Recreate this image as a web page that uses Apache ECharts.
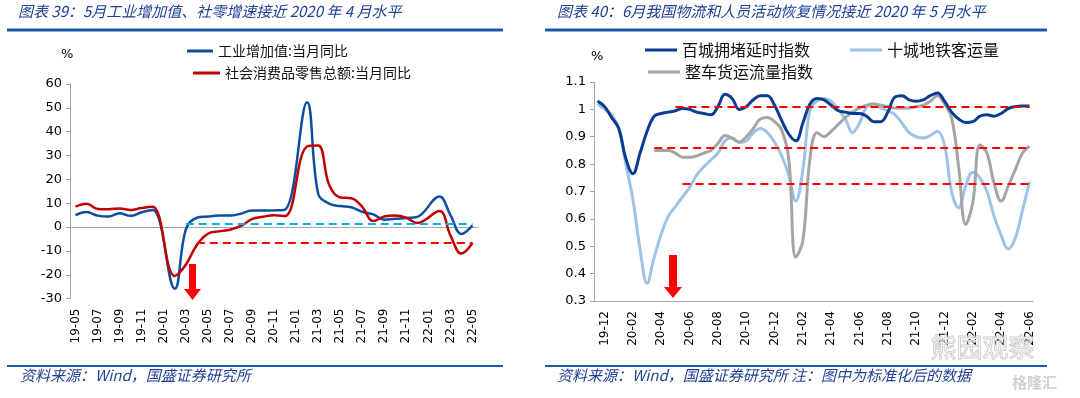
<!DOCTYPE html>
<html>
<head>
<meta charset="utf-8">
<script src="https://cdn.jsdelivr.net/npm/echarts@6/dist/echarts.min.js"></script>
<style>
html, body { margin: 0; padding: 0; background: #fff; }
#chart { width: 1080px; height: 398px; }
</style>
</head>
<body>
<div id="chart"></div>
<script>
// 图表39：工业增加值、社零 当月同比（%）
const leftMonths = ['19-05', '19-06', '19-07', '19-08', '19-09', '19-10', '19-11', '19-12',
  '20-01', '20-02', '20-03', '20-04', '20-05', '20-06', '20-07', '20-08', '20-09', '20-10', '20-11', '20-12',
  '21-01', '21-02', '21-03', '21-04', '21-05', '21-06', '21-07', '21-08', '21-09', '21-10', '21-11', '21-12',
  '22-01', '22-02', '22-03', '22-04', '22-05'];
// 1月无单月数据，留空后连线
const industryYoY = [5.0, 6.3, 4.8, 4.4, 5.8, 4.7, 6.2, 7.2,
  null, -25.9, -1.1, 3.9, 4.4, 4.8, 4.8, 5.6, 6.9, 6.9, 7.0, 7.3,
  null, 52.3, 14.1, 9.8, 8.8, 8.3, 6.4, 5.3, 3.1, 3.5, 3.8, 4.3,
  null, 12.8, 5.0, -2.9, 0.7];
const retailYoY = [8.6, 9.8, 7.6, 7.5, 7.8, 7.2, 8.0, 8.5,
  null, -20.5, -15.8, -7.5, -2.8, -1.8, -1.1, 0.5, 3.3, 4.3, 5.0, 4.6,
  null, 33.8, 34.2, 17.7, 12.4, 12.1, 8.5, 2.5, 4.4, 4.9, 3.9, 1.7,
  null, 6.7, -3.5, -11.1, -6.7];
const industryRef = 1.3;   // 参考线：工业增加值
const retailRef = -6.7;    // 参考线：22-05 社零

// 图表40：物流和人员活动（标准化），半月一个点
const rightMonths = ['19-12', '20-01', '20-02', '20-03', '20-04', '20-05', '20-06', '20-07', '20-08',
  '20-09', '20-10', '20-11', '20-12', '21-01', '21-02', '21-03', '21-04', '21-05', '21-06', '21-07',
  '21-08', '21-09', '21-10', '21-11', '21-12', '22-01', '22-02', '22-03', '22-04', '22-05', '22-06'];
const congestion = [1.03, 1.01, 0.97, 0.93, 0.82, 0.765, 0.84, 0.92, 0.975, 0.985,
  0.99, 0.995, 1.003, 1.0, 0.99, 0.985, 0.98, 1.01, 1.055, 1.04,
  1.0, 1.01, 1.035, 1.05, 1.05, 1.015, 0.96, 0.91, 0.885, 0.95,
  1.02, 1.04, 1.035, 1.015, 0.995, 0.99, 0.985, 0.985, 0.975, 0.955,
  0.955, 0.99, 1.045, 1.05, 1.035, 1.03, 1.035, 1.05, 1.06, 1.03,
  0.99, 0.965, 0.952, 0.955, 0.975, 0.98, 0.975, 0.985, 1.003, 1.01,
  1.012, 1.012];
const subway = [1.02, 1.0, 0.98, 0.93, 0.80, 0.67, 0.49, 0.365, 0.46, 0.545,
  0.61, 0.645, 0.68, 0.715, 0.76, 0.79, 0.815, 0.84, 0.885, 0.895,
  0.88, 0.885, 0.915, 0.93, 0.915, 0.88, 0.83, 0.76, 0.665, 0.78,
  1.0, 1.03, 1.04, 1.03, 1.0, 0.965, 0.915, 0.95, 1.01, 1.02,
  1.005, 0.995, 0.98, 0.95, 0.915, 0.9, 0.895, 0.905, 0.92, 0.87,
  0.70, 0.64, 0.72, 0.77, 0.75, 0.70, 0.61, 0.54, 0.49, 0.53,
  0.63, 0.735];
const truck = [null, null, null, null, null, null, null, null, 0.85, 0.85,
  0.85, 0.84, 0.825, 0.825, 0.83, 0.84, 0.85, 0.875, 0.905, 0.895,
  0.88, 0.9, 0.93, 0.965, 0.97, 0.955, 0.925, 0.82, 0.46, 0.52,
  0.82, 0.915, 0.9, 0.92, 0.945, 0.97, 0.99, 1.005, 1.015, 1.02,
  1.015, 1.01, 1.005, 1.005, 1.005, 1.01, 1.015, 1.03, 1.05, 1.02,
  0.97, 0.79, 0.58, 0.66, 0.87, 0.84, 0.73, 0.665, 0.72, 0.78,
  0.84, 0.865];
const congestionRef = 1.01;
const truckRef = 0.86;
const subwayRef = 0.73;

const halfMonths = rightMonths.flatMap(m => [m + '上', m + '下']);

const cjk = '"Noto Sans CJK SC", sans-serif';
const num = '"DejaVu Sans", sans-serif';
const axisGray = '#a6a6a6';
const navy = '#1f3f94';

const chart = echarts.init(document.getElementById('chart'));

function legendAt(name, left, top, size, width) {
  return {
    data: [name], left: left, top: top, padding: 0,
    icon: 'rect', itemWidth: width, itemHeight: 3, selectedMode: false,
    textStyle: { fontSize: size, fontFamily: cjk, color: '#111' }
  };
}

const dashed = { type: [8, 5], width: 2 };

const option = {
  animation: false,
  grid: [
    { left: 70, top: 84, width: 408, height: 214.6 },
    { left: 594, top: 82, width: 439, height: 219 }
  ],
  legend: [
    legendAt('工业增加值:当月同比', 187, 44, 14, 26),
    legendAt('社会消费品零售总额:当月同比', 193, 66, 14, 27),
    legendAt('百城拥堵延时指数', 645, 42, 16, 32),
    legendAt('十城地铁客运量', 850, 42, 16, 32),
    legendAt('整车货运流量指数', 648, 64, 16, 32)
  ],
  xAxis: [
    {
      gridIndex: 0, type: 'category', data: leftMonths, position: 'bottom',
      axisLine: { show: false, onZero: false }, axisTick: { show: false },
      axisLabel: { interval: 1, rotate: 90, margin: 10, fontSize: 12, fontFamily: num, color: '#000' }
    },
    {
      gridIndex: 0, type: 'category', data: leftMonths, position: 'bottom',
      axisLine: { onZero: true, lineStyle: { color: axisGray, width: 1 } },
      axisTick: { interval: 1, length: 3, lineStyle: { color: axisGray } },
      axisLabel: { show: false }
    },
    {
      gridIndex: 1, type: 'category', data: halfMonths, position: 'bottom',
      axisLine: { onZero: false, lineStyle: { color: axisGray, width: 1 } },
      axisTick: { inside: true, length: 5, interval: i => i % 4 === 0, lineStyle: { color: axisGray } },
      axisLabel: {
        interval: i => i % 4 === 1, rotate: 90, margin: 10, fontSize: 12, fontFamily: num, color: '#000',
        formatter: v => v.slice(0, 5)
      }
    }
  ],
  yAxis: [
    {
      gridIndex: 0, type: 'value', min: -30, max: 60, interval: 10,
      splitLine: { show: false },
      axisLine: { show: true, lineStyle: { color: axisGray } },
      axisTick: { show: true, length: 4, lineStyle: { color: axisGray } },
      axisLabel: { fontSize: 13, fontFamily: num, color: '#000', margin: 8 }
    },
    {
      gridIndex: 1, type: 'value', min: 0.3, max: 1.1, interval: 0.1,
      splitLine: { show: false },
      axisLine: { show: true, lineStyle: { color: axisGray } },
      axisTick: { show: true, length: 4, lineStyle: { color: axisGray } },
      axisLabel: { fontSize: 13, fontFamily: num, color: '#000', margin: 8 }
    }
  ],
  series: [
    {
      name: '工业增加值:当月同比', type: 'line', xAxisIndex: 0, yAxisIndex: 0,
      data: industryYoY, connectNulls: true, smooth: 0.4, showSymbol: false,
      lineStyle: { color: '#0b4ea2', width: 2.5 }, itemStyle: { color: '#0b4ea2' }
    },
    {
      name: '社会消费品零售总额:当月同比', type: 'line', xAxisIndex: 0, yAxisIndex: 0,
      data: retailYoY, connectNulls: true, smooth: 0.4, showSymbol: false,
      lineStyle: { color: '#c00000', width: 2.5 }, itemStyle: { color: '#c00000' },
      markLine: {
        silent: true, symbol: 'none', label: { show: false }, lineStyle: dashed,
        data: [
          [{ coord: ['20-03', industryRef], lineStyle: { color: '#00b0f0', type: [8, 5], width: 2 } },
           { coord: ['22-05', industryRef] }],
          [{ coord: ['20-04', retailRef], lineStyle: { color: '#ff0000', type: [8, 5], width: 2 } },
           { coord: ['22-05', retailRef] }]
        ]
      }
    },
    {
      name: '十城地铁客运量', type: 'line', xAxisIndex: 2, yAxisIndex: 1,
      data: subway, smooth: 0.4, showSymbol: false,
      lineStyle: { color: '#9dc3e6', width: 3 }, itemStyle: { color: '#9dc3e6' }
    },
    {
      name: '整车货运流量指数', type: 'line', xAxisIndex: 2, yAxisIndex: 1,
      data: truck, smooth: 0.4, showSymbol: false,
      lineStyle: { color: '#a5a5a5', width: 3 }, itemStyle: { color: '#a5a5a5' }
    },
    {
      name: '百城拥堵延时指数', type: 'line', xAxisIndex: 2, yAxisIndex: 1,
      data: congestion, smooth: 0.4, showSymbol: false,
      lineStyle: { color: '#0a3d91', width: 3 }, itemStyle: { color: '#0a3d91' },
      markLine: {
        silent: true, symbol: 'none', label: { show: false },
        lineStyle: { color: '#ff0000', type: [8, 5], width: 2 },
        data: [
          [{ coord: [halfMonths[11], congestionRef] }, { coord: [halfMonths[61], congestionRef] }],
          [{ coord: [halfMonths[8], truckRef] }, { coord: [halfMonths[61], truckRef] }],
          [{ coord: [halfMonths[12], subwayRef] }, { coord: [halfMonths[61], subwayRef] }]
        ]
      }
    }
  ],
  graphic: [
    // 标题与分隔线
    { type: 'text', left: 18, top: 4, style: { text: '图表 39：5月工业增加值、社零增速接近 2020 年 4 月水平', font: 'italic 15px ' + cjk, fill: navy } },
    { type: 'text', left: 557, top: 4, style: { text: '图表 40：6月我国物流和人员活动恢复情况接近 2020 年 5 月水平', font: 'italic 15px ' + cjk, fill: navy } },
    { type: 'line', shape: { x1: 7, y1: 30, x2: 503, y2: 30 }, style: { stroke: '#1f5aa8', lineWidth: 3 } },
    { type: 'line', shape: { x1: 545, y1: 30, x2: 1047, y2: 30 }, style: { stroke: '#1f5aa8', lineWidth: 3 } },
    { type: 'line', shape: { x1: 7, y1: 366, x2: 503, y2: 366 }, style: { stroke: '#1f5aa8', lineWidth: 2 } },
    { type: 'line', shape: { x1: 545, y1: 366, x2: 1047, y2: 366 }, style: { stroke: '#1f5aa8', lineWidth: 2 } },
    { type: 'text', left: 20, top: 368, style: { text: '资料来源：Wind，国盛证券研究所', font: 'italic 15px ' + cjk, fill: navy } },
    { type: 'text', left: 557, top: 368, style: { text: '资料来源：Wind，国盛证券研究所 注：图中为标准化后的数据', font: 'italic 15px ' + cjk, fill: navy } },
    // 单位
    { type: 'text', left: 61, top: 48, style: { text: '%', font: '13px ' + num, fill: '#000' } },
    { type: 'text', left: 591, top: 50, style: { text: '%', font: '13px ' + num, fill: '#000' } },
    // 红色箭头
    { type: 'polygon', shape: { points: [[189, 264], [196, 264], [196, 289], [201, 289], [192.5, 300], [184, 289], [189, 289]] }, style: { fill: '#ff0000' } },
    { type: 'polygon', shape: { points: [[669, 255], [677, 255], [677, 287], [682, 287], [673, 298], [664, 287], [669, 287]] }, style: { fill: '#ff0000' } },
    // 水印
    { type: 'text', left: 930, top: 334, z: 100, style: { text: '熊园观察', font: '26px ' + cjk, fill: 'rgba(255,255,255,0.3)', stroke: '#c8c8c8', lineWidth: 1 } },
    { type: 'text', left: 1012, top: 375, z: 100, style: { text: '格隆汇', font: 'bold 15px ' + cjk, fill: '#d0d0d0' } }
  ]
};

chart.setOption(option);
</script>
</body>
</html>
